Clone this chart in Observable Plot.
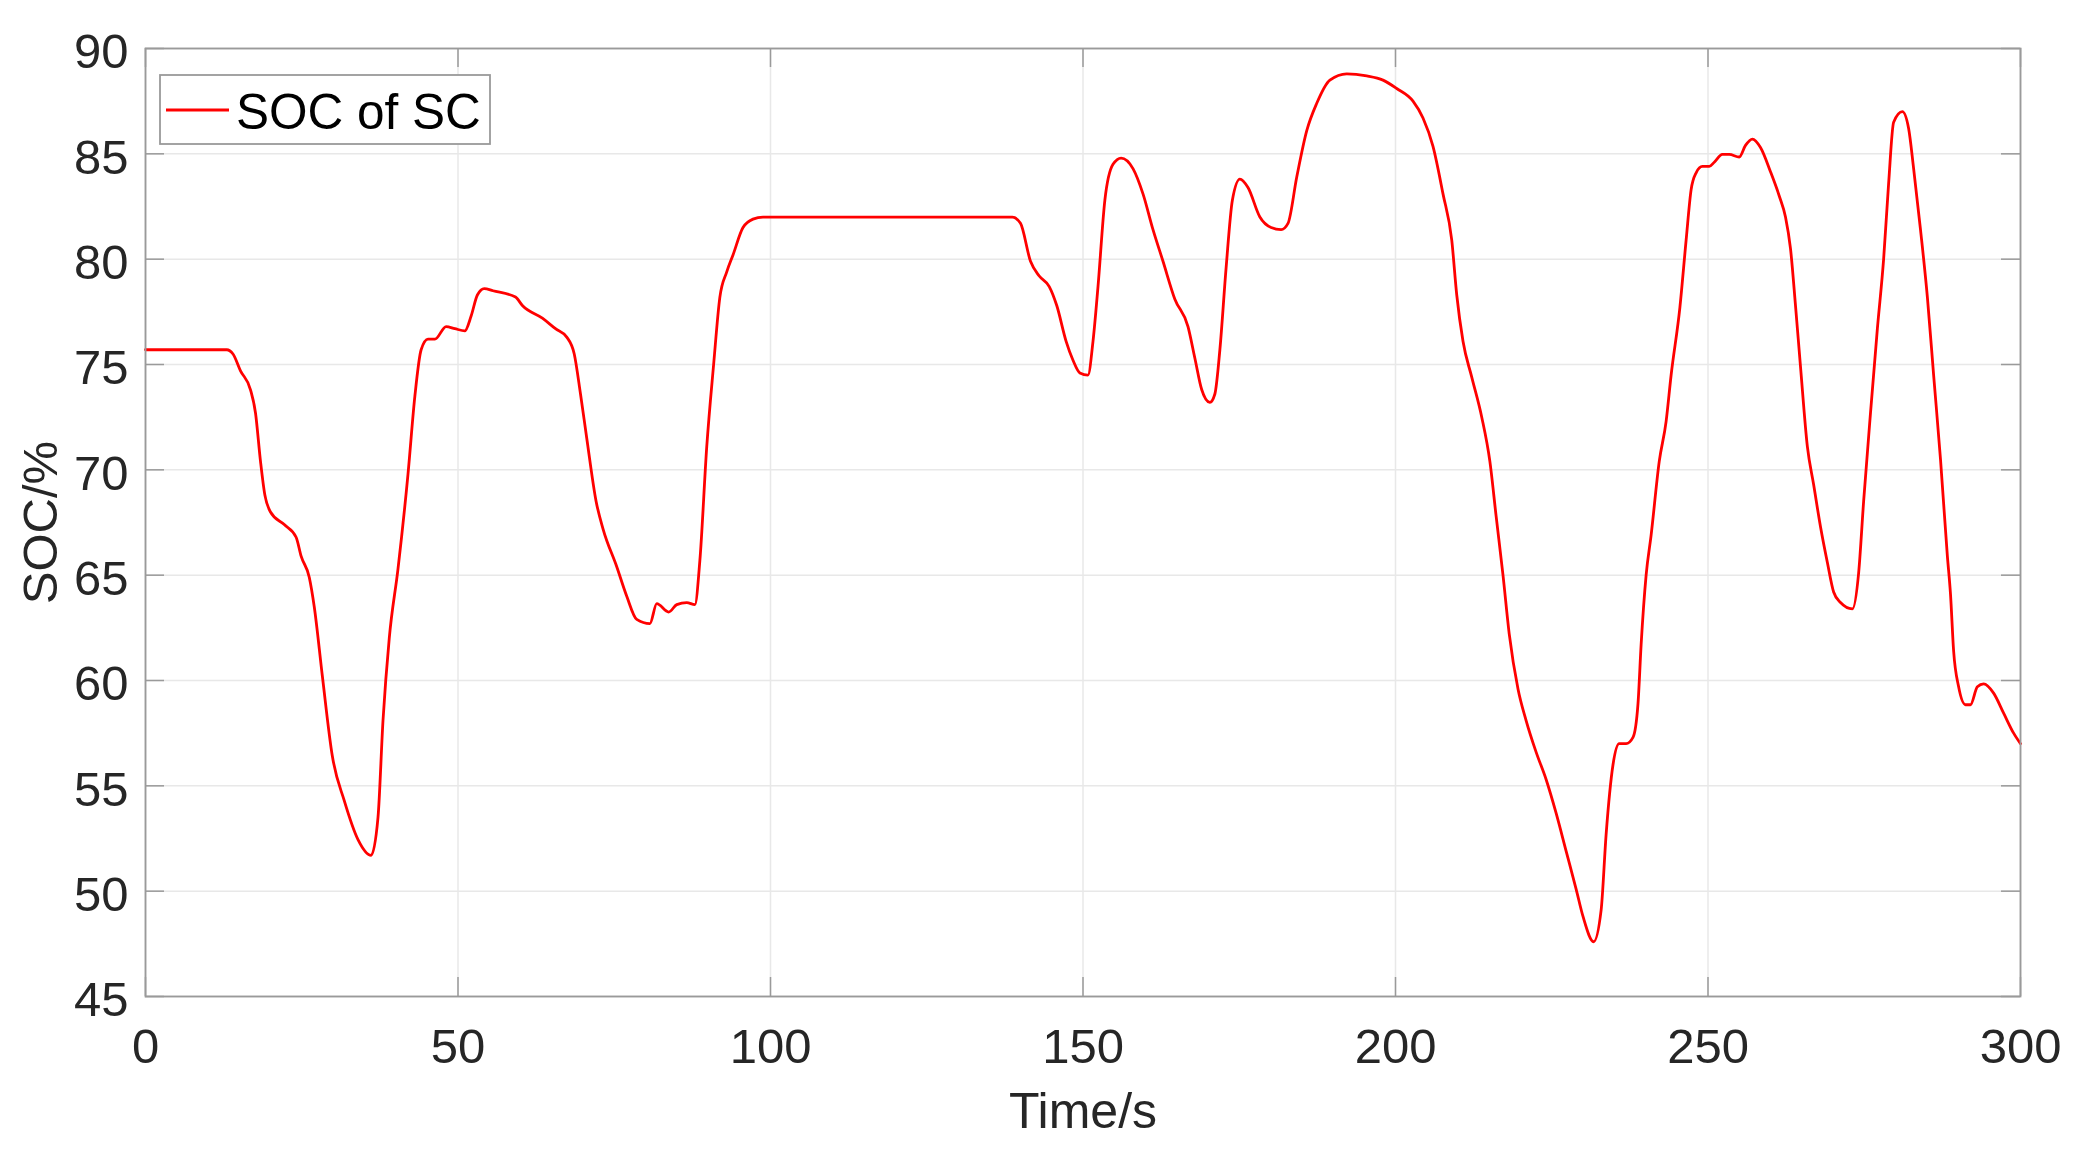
<!DOCTYPE html>
<html>
<head>
<meta charset="utf-8">
<script src="https://cdn.jsdelivr.net/npm/d3@7"></script>
<script src="https://cdn.jsdelivr.net/npm/@observablehq/plot@0.6"></script>
<style>
  html, body { margin: 0; padding: 0; background: #fff; }
  #wrap { position: relative; width: 2087px; height: 1157px; }
  #legend { position: absolute; left: 0; top: 0; }
</style>
</head>
<body>
<div id="wrap"></div>
<script>
// ---- data ----
const timeS = [0, 13, 14, 15.2, 16.8, 17.6, 18.4, 19.1, 20, 22.2, 24.1, 24.9, 26.2, 27, 28.3, 29.9, 31.8, 34, 36.1, 37.2, 38, 39, 40.4, 42, 43.1, 44.1, 45.2, 46.3, 48.1, 49.5, 51.1, 52.1, 53.1, 54.2, 55.6, 59.2, 60.3, 63.5, 65.6, 67.4, 68.6, 69.6, 70.6, 72.1, 73.2, 75.4, 77, 78.6, 80.7, 81.8, 83.7, 85, 86.6, 87.9, 88.7, 89.8, 90.9, 91.9, 93, 94, 95.6, 97.2, 98.8, 138.7, 140, 141.6, 143, 144.6, 145.8, 147.3, 148.4, 149.5, 150.8, 151.6, 152.4, 153.5, 154.8, 156.1, 158, 159.6, 161.2, 162.8, 164.7, 166.8, 167.9, 169, 170.3, 171.1, 171.9, 172.9, 173.9, 175.1, 176.4, 178.3, 180.1, 181.7, 182.8, 184.2, 185.8, 187.4, 189.5, 192.2, 195.4, 198, 200.2, 202.8, 204.4, 206, 207.6, 209, 209.8, 210.8, 212.2, 213.8, 215.1, 216.1, 217.2, 218.2, 219.6, 220.9, 222.5, 224.1, 225.7, 227.3, 228.9, 230, 231.7, 232.9, 233.7, 234.8, 235.8, 236.9, 238, 238.8, 239.3, 240.1, 240.9, 242.2, 243.3, 244.1, 245.5, 246.5, 247.3, 248.1, 249.1, 250.2, 251, 252.3, 253.4, 255, 256, 257.1, 258.4, 260, 261.4, 262.4, 263.2, 264, 264.8, 265.9, 266.9, 268, 269.1, 270.1, 271.2, 273.1, 274.1, 274.9, 276, 277.1, 278.1, 278.9, 279.7, 281.1, 282.1, 282.9, 284, 285.1, 286.1, 287.2, 288.3, 288.8, 289.3, 290.1, 291.2, 292, 293.1, 294.1, 295.7, 297.3, 298.9, 300];
const socSC = [75.7, 75.7, 75.5, 74.7, 73.8, 72.7, 70.4, 68.8, 68.0, 67.4, 66.8, 65.9, 64.9, 63.5, 60.2, 56.4, 54.3, 52.45, 51.7, 53.5, 58.1, 62.0, 65.3, 69.8, 73.5, 75.7, 76.2, 76.2, 76.8, 76.7, 76.6, 77.3, 78.3, 78.6, 78.5, 78.2, 77.8, 77.2, 76.7, 76.3, 75.5, 73.6, 71.5, 68.5, 67.2, 65.4, 64.0, 62.9, 62.7, 63.65, 63.25, 63.6, 63.7, 63.6, 65.7, 71.1, 75.0, 78.2, 79.4, 80.2, 81.5, 81.9, 82.0, 82.0, 81.7, 79.9, 79.2, 78.7, 77.8, 76.1, 75.2, 74.6, 74.5, 76.1, 78.7, 82.8, 84.5, 84.8, 84.3, 83.1, 81.4, 79.9, 78.1, 76.8, 75.3, 73.8, 73.2, 73.6, 75.7, 79.6, 82.8, 83.8, 83.4, 82.0, 81.5, 81.4, 81.7, 83.9, 86.1, 87.4, 88.5, 88.8, 88.7, 88.5, 88.1, 87.5, 86.7, 85.35, 83.1, 80.9, 78.3, 76.1, 74.4, 72.5, 70.4, 67.8, 65.0, 62.2, 59.6, 58.1, 56.6, 55.3, 53.7, 51.9, 50.1, 48.8, 47.6, 49.1, 52.7, 56.0, 57.0, 57.0, 57.3, 58.9, 61.7, 65.0, 66.9, 70.4, 72.3, 74.5, 77.7, 80.9, 83.3, 84.1, 84.4, 84.4, 84.6, 84.97, 84.97, 84.85, 85.4, 85.7, 85.3, 84.15, 83.0, 82.0, 80.5, 77.8, 74.9, 71.1, 69.3, 67.3, 65.6, 64.2, 63.7, 63.4, 65.1, 68.5, 72.7, 76.7, 80.0, 83.6, 86.5, 87.0, 86.2, 84.3, 81.4, 78.2, 74.5, 70.5, 65.9, 64.1, 61.4, 59.7, 58.85, 58.85, 59.7, 59.84, 59.4, 58.45, 57.5, 57.0];
const xTicks = [0, 50, 100, 150, 200, 250, 300];
const yTicks = [45, 50, 55, 60, 65, 70, 75, 80, 85, 90];
const xLabel = "Time/s";
const yLabel = "SOC/%";
const seriesName = "SOC of SC";

const data = timeS.map((t, i) => ({t, v: socSC[i]}));

// ---- layout ----
const W = 2087, H = 1157;
const mL = 145, mR = 67, mT = 48, mB = 161;
const innerW = W - mL - mR, innerH = H - mT - mB;
const tickLen = 19;
const axisGray = "#9a9a9a";
const font = "'Liberation Sans', Arial, Helvetica, sans-serif";

const chart = Plot.plot({
  width: W, height: H,
  marginLeft: mL, marginRight: mR, marginTop: mT, marginBottom: mB,
  style: {fontFamily: font, fontSize: "49px", color: "#262626", background: "#fff", overflow: "visible"},
  x: {domain: [0, 300]},
  y: {domain: [45, 90]},
  marks: [
    Plot.gridX(xTicks, {stroke: "#e8e8e8", strokeOpacity: 1, strokeWidth: 1.5}),
    Plot.gridY(yTicks, {stroke: "#e8e8e8", strokeOpacity: 1, strokeWidth: 1.5}),
    Plot.ruleY(yTicks, {y: d => d, stroke: axisGray, strokeWidth: 1.5, insetRight: innerW - tickLen}),
    Plot.ruleY(yTicks, {y: d => d, stroke: axisGray, strokeWidth: 1.5, insetLeft: innerW - tickLen}),
    Plot.ruleX(xTicks, {x: d => d, stroke: axisGray, strokeWidth: 1.5, insetTop: innerH - tickLen}),
    Plot.ruleX(xTicks, {x: d => d, stroke: axisGray, strokeWidth: 1.5, insetBottom: innerH - tickLen}),
    Plot.line(data, {x: "t", y: "v", stroke: "#ff0000", strokeWidth: 2.8, curve: "monotone-x"}),
    Plot.frame({stroke: axisGray, strokeWidth: 1.8}),
    Plot.axisX(xTicks, {tickSize: 0, tickPadding: 32, label: null, fill: "#262626"}),
    Plot.axisY(yTicks, {tickSize: 0, tickPadding: 17, label: null, dy: 4, fill: "#262626"}),
    Plot.text([xLabel], {text: d => d, frameAnchor: "bottom", lineAnchor: "middle", textAnchor: "middle", dy: 115, fontSize: 50, fill: "#262626"}),
    Plot.text([yLabel], {text: d => d, frameAnchor: "left", lineAnchor: "middle", textAnchor: "middle", dx: -104, rotate: -90, fontSize: 49, fill: "#262626"})
  ]
});

const wrap = document.getElementById("wrap");
wrap.appendChild(chart);

// ---- legend (inside the axes, top-left) ----
const lg = d3.create("svg")
  .attr("id", "legend")
  .attr("width", W).attr("height", 200)
  .style("pointer-events", "none");
lg.append("rect")
  .attr("x", 160).attr("y", 75).attr("width", 330).attr("height", 69)
  .attr("fill", "#fff").attr("stroke", axisGray).attr("stroke-width", 1.8);
lg.append("line")
  .attr("x1", 166).attr("x2", 229).attr("y1", 110).attr("y2", 110)
  .attr("stroke", "#ff0000").attr("stroke-width", 2.8);
lg.append("text")
  .attr("x", 236).attr("y", 129)
  .attr("font-family", font).attr("font-size", 49.5).attr("fill", "#000")
  .text(seriesName);
wrap.appendChild(lg.node());
</script>
</body>
</html>
